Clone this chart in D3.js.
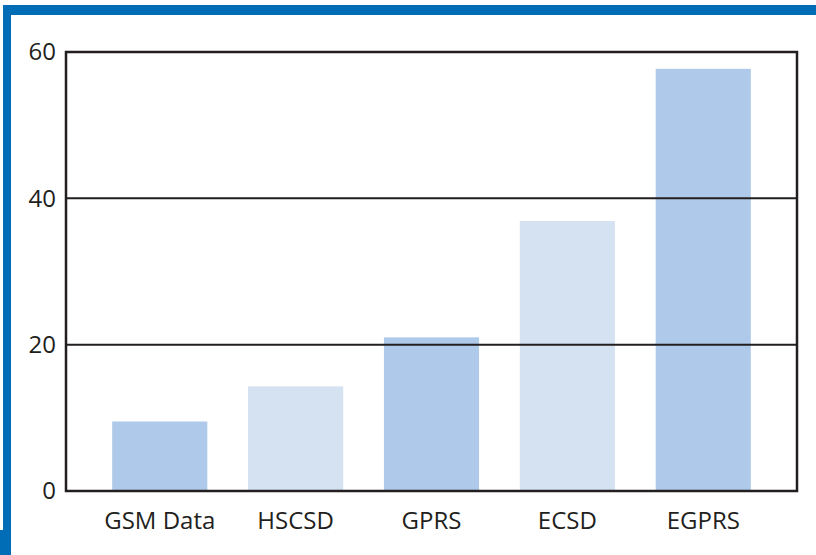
<!DOCTYPE html>
<html>
<head>
<meta charset="utf-8">
<script src="https://cdn.jsdelivr.net/npm/d3@7"></script>
<style>
  body { margin: 0; background: #fff; }
  svg text { font-family: "Open Sans", sans-serif; fill: #231f20; }
</style>
</head>
<body>
<div class="chart"></div>
<script>
// data
var categories = ["GSM Data", "HSCSD", "GPRS", "ECSD", "EGPRS"];
var values = [9.5, 14.3, 21, 36.9, 57.7];
var barColors = ["#aec9e9", "#d5e2f2", "#aec9e9", "#d5e2f2", "#aec9e9"];
var yTicks = [0, 20, 40, 60];

var W = 816, H = 555;
var plot = {left: 66, top: 52, right: 797, bottom: 491};

var svg = d3.select(".chart").append("svg")
    .attr("width", W).attr("height", H);

// blue page frame
var blue = "#006db6";
svg.append("rect").attr("x", 3).attr("y", 5).attr("width", W - 3).attr("height", 10).attr("fill", blue);
svg.append("rect").attr("x", 3).attr("y", 5).attr("width", 8).attr("height", H - 5).attr("fill", blue);
svg.append("rect").attr("x", 0).attr("y", 530).attr("width", 11).attr("height", H - 530).attr("fill", blue);

var x = d3.scaleBand().domain(categories)
    .range([plot.left, plot.right])
    .paddingInner(0.3).paddingOuter(0.34);
var y = d3.scaleLinear().domain([0, 60]).range([plot.bottom, plot.top]);

// bars
svg.selectAll(".bar").data(values).enter().append("rect")
    .attr("class", "bar")
    .attr("x", function(d, i) { return x(categories[i]); })
    .attr("width", x.bandwidth())
    .attr("y", function(d) { return y(d); })
    .attr("height", function(d) { return y(0) - y(d); })
    .attr("fill", function(d, i) { return barColors[i]; });

// gridlines
svg.selectAll(".grid").data(yTicks.filter(function(t) { return t > 0 && t < 60; }))
    .enter().append("line")
    .attr("x1", plot.left).attr("x2", plot.right)
    .attr("y1", function(d) { return y(d); }).attr("y2", function(d) { return y(d); })
    .attr("stroke", "#231f20").attr("stroke-width", 2);

// frame
svg.append("rect")
    .attr("x", plot.left).attr("y", plot.top)
    .attr("width", plot.right - plot.left).attr("height", plot.bottom - plot.top)
    .attr("fill", "none").attr("stroke", "#231f20").attr("stroke-width", 2.5);

// y axis labels
var yAxis = d3.axisLeft(y).tickValues(yTicks).tickSize(0).tickPadding(10);
var gy = svg.append("g").attr("transform", "translate(" + plot.left + ",0)").call(yAxis);
gy.select(".domain").remove();
gy.selectAll("text").attr("font-size", 24).attr("font-weight", 500)
    .attr("font-family", null).attr("fill", "#231f20");

// x axis labels
var xAxis = d3.axisBottom(x).tickSize(0).tickPadding(21);
var gx = svg.append("g").attr("transform", "translate(0," + plot.bottom + ")").call(xAxis);
gx.select(".domain").remove();
gx.selectAll("text").attr("font-size", 24).attr("font-weight", 500)
    .attr("font-family", null).attr("fill", "#231f20");
</script>
</body>
</html>
